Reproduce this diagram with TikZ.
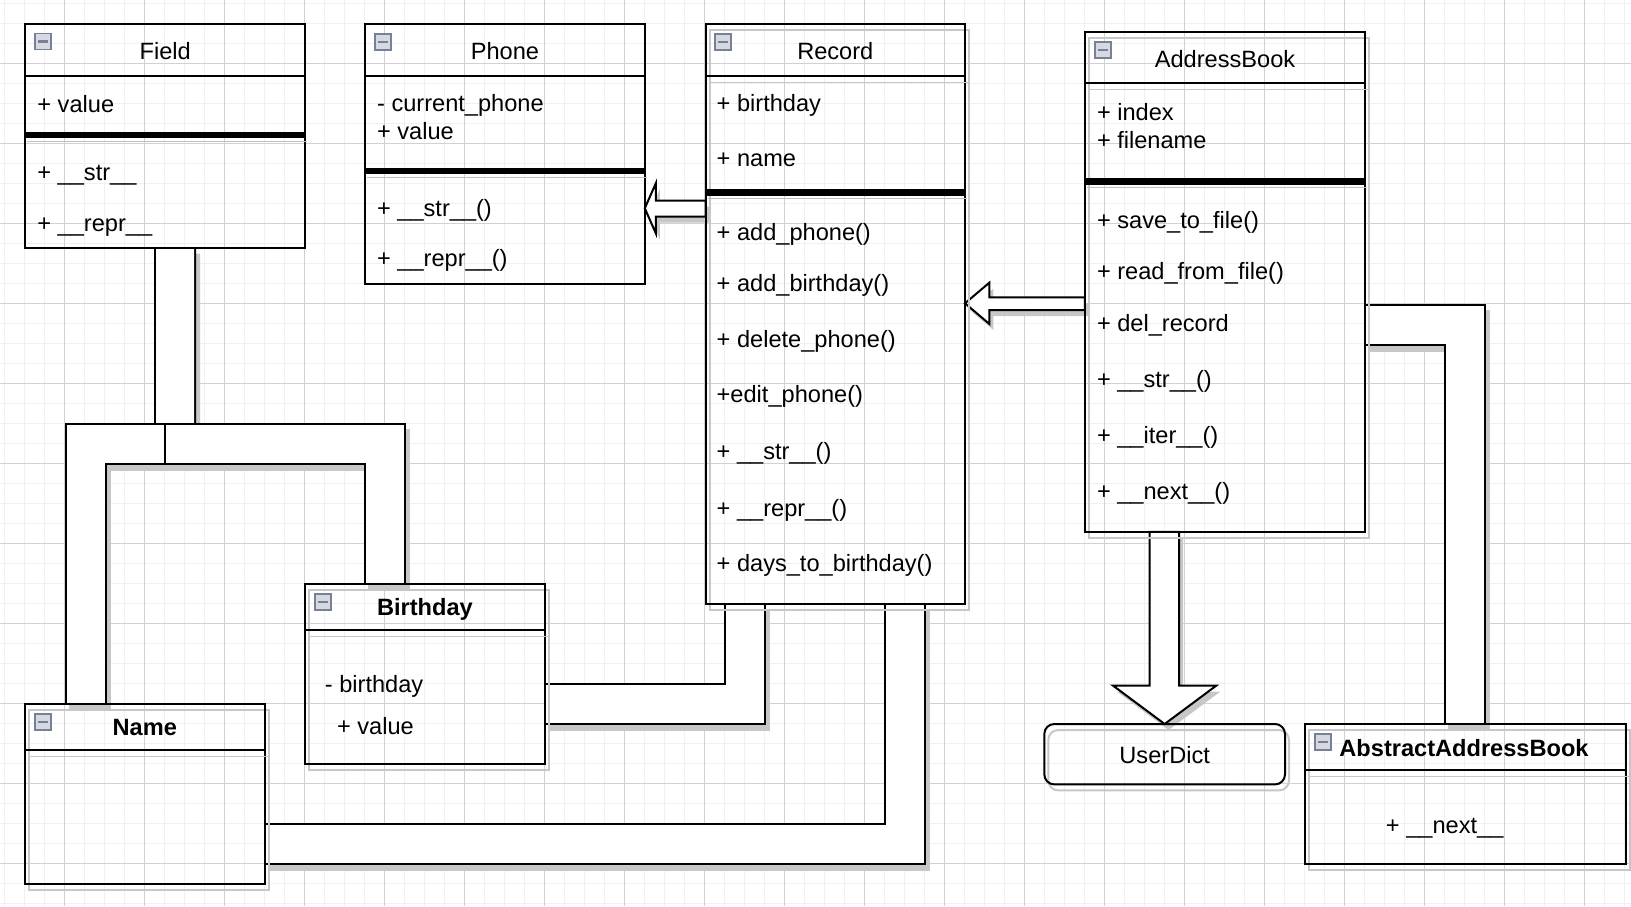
\documentclass[tikz,border=0pt]{standalone}
\usepackage{fontspec}
\setmainfont{Liberation Sans}
\usetikzlibrary{calc,fit}
\pgfdeclarelayer{bg}
\pgfsetlayers{bg,main}
\definecolor{togedge}{RGB}{118,128,150}
\definecolor{togfill}{RGB}{214,217,224}
\tikzset{
  cls/.style={draw, line width=1pt, inner sep=0pt, outer sep=0pt},
  shd/.style={preaction={draw=black!22, transform canvas={shift={(2pt,-3pt)}}}},
  bar/.style={line width=3.3pt, preaction={draw=black!25, transform canvas={shift={(1pt,-3pt)}}}},
  dlink/.style={line width=1pt, double=white, double distance=19pt,
    preaction={draw=black!22, line width=21pt, transform canvas={shift={(2pt,-3pt)}}}},
  harrow/.style={draw, fill=white, line width=1pt,
    preaction={fill=black!22, transform canvas={shift={(2pt,-3pt)}}}},
  tog/.style={draw=togedge, line width=0.8pt, fill=togfill, minimum size=8pt, inner sep=0pt,
    path picture={\draw[line width=1.1pt] ([xshift=-2.6pt]path picture bounding box.center)
      -- ([xshift=2.6pt]path picture bounding box.center);}},
  ttl/.style={anchor=base, inner sep=0pt},
  mem/.style={anchor=base west, inner sep=0pt}
}
\begin{document}
\begin{tikzpicture}[x=0.5pt, y=-0.5pt, font=\fontsize{11.8}{14}\selectfont]
      \useasboundingbox (0,0) rectangle (1631,906);
      % Field
      \node[cls, fit={(25.3,24)(305.2,247.7)}] (f) {};
      \node[tog] (f0) at (43,41.5) {};
      \node[ttl] (f1) at (165.25,59.3) {Field};
      \node[mem] (f2) at (37,112) {+ value};
      \node[mem] (f3) at (37,180) {+ \_\_str\_\_};
      \node[mem] (f4) at (37,231) {+ \_\_repr\_\_};
      \draw[line width=1pt] (25.3,76) -- (305.2,76);
      \draw[bar] (25.3,135) -- (305.2,135);
      % Phone
      \node[cls, fit={(365,24)(644.8,284)}] (p) {};
      \node[tog] (p0) at (383,41.7) {};
      \node[ttl] (p1) at (504.9,59.3) {Phone};
      \node[mem] (p2) at (376.7,111.5) {- current\_phone};
      \node[mem] (p3) at (376.7,139.5) {+ value};
      \node[mem] (p4) at (376.7,216.5) {+ \_\_str\_\_()};
      \node[mem] (p5) at (376.7,266.5) {+ \_\_repr\_\_()};
      \draw[line width=1pt] (365,76) -- (644.8,76);
      \draw[bar] (365,171) -- (644.8,171);
      % Record
      \node[cls, shd, fit={(705.7,24)(965,603.8)}] (r) {};
      \node[tog] (r0) at (723,41.7) {};
      \node[ttl] (r1) at (835.3,59.3) {Record};
      \node[mem] (r2) at (716.3,111.5) {+ birthday};
      \node[mem] (r3) at (716.3,166.5) {+ name};
      \node[mem] (r4) at (716.3,240) {+ add\_phone()};
      \node[mem] (r5) at (716.3,291.5) {+ add\_birthday()};
      \node[mem] (r6) at (716.3,347) {+ delete\_phone()};
      \node[mem] (r7) at (716.3,402.5) {+edit\_phone()};
      \node[mem] (r8) at (716.3,459) {+ \_\_str\_\_()};
      \node[mem] (r9) at (716.3,516) {+ \_\_repr\_\_()};
      \node[mem] (r10) at (716.3,571.5) {+ days\_to\_birthday()};
      \draw[shd, line width=1pt] (705.7,76) -- (965,76);
      \draw[bar] (705.7,192.7) -- (965,192.7);
      % AddressBook
      \node[cls, shd, fit={(1084.9,32)(1365,531.8)}] (ab) {};
      \node[tog] (ab0) at (1103,50) {};
      \node[ttl] (ab1) at (1225,67.3) {AddressBook};
      \node[mem] (ab2) at (1096.6,120) {+ index};
      \node[mem] (ab3) at (1096.6,148) {+ filename};
      \node[mem] (ab4) at (1096.6,228) {+ save\_to\_file()};
      \node[mem] (ab5) at (1096.6,279.5) {+ read\_from\_file()};
      \node[mem] (ab6) at (1096.6,331.5) {+ del\_record};
      \node[mem] (ab7) at (1096.6,387.5) {+ \_\_str\_\_()};
      \node[mem] (ab8) at (1096.6,443.8) {+ \_\_iter\_\_()};
      \node[mem] (ab9) at (1096.6,499) {+ \_\_next\_\_()};
      \draw[shd, line width=1pt] (1084.9,83) -- (1365,83);
      \draw[bar] (1084.9,181.3) -- (1365,181.3);
      % Birthday
      \node[cls, shd, fit={(304.9,583.6)(544.9,764)}] (bd) {};
      \node[tog] (bd0) at (322.8,602) {};
      \node[ttl] (bd1) at (424.9,615) {\bfseries Birthday};
      \node[mem] (bd2) at (324.5,692.4) {- birthday};
      \node[mem] (bd3) at (336.7,734.4) {+ value};
      \draw[shd, line width=1pt] (304.9,630) -- (544.9,630);
      % Name
      \node[cls, shd, fit={(24.5,703.8)(265,884)}] (nm) {};
      \node[tog] (nm0) at (43,722) {};
      \node[ttl] (nm1) at (144.75,735.6) {\bfseries Name};
      \draw[shd, line width=1pt] (24.5,750) -- (265,750);
      % UserDict
      \node[cls, shd, rounded corners=5pt, fit={(1044.3,724)(1285,784.4)}] (ud) {};
      \node[ttl] (ud1) at (1164.65,763.5) {UserDict};
      % AbstractAddressBook
      \node[cls, shd, fit={(1304.6,724)(1625.7,863.6)}] (aab) {};
      \node[tog] (aab0) at (1323,742) {};
      \node[ttl] (aab1) at (1464,756.4) {\bfseries AbstractAddressBook};
      \node[ttl] (aab2) at (1444.7,833.5) {+ \_\_next\_\_};
      \draw[shd, line width=1pt] (1304.6,770) -- (1625.7,770);

      \begin{pgfonlayer}{bg}
      \fill[white] (0,0) rectangle (1631,906);
      \foreach \gx in {4,24,...,1624} \draw[black!6, line width=0.5pt] (\gx,0) -- (\gx,906);
      \foreach \gy in {3.3,23.3,...,903.3} \draw[black!6, line width=0.5pt] (0,\gy) -- (1631,\gy);
      \foreach \gx in {64,144,...,1584} \draw[black!18, line width=0.5pt] (\gx,0) -- (\gx,906);
      \foreach \gy in {63.3,143.3,...,863.3} \draw[black!18, line width=0.5pt] (0,\gy) -- (1631,\gy);
      % links
      \coordinate (fork) at (165,443.5);
      \draw[dlink] ($(f.south)+(9.75,0)$) -- ($(fork)+(10,-20)$);
      \draw[dlink] ($(nm.north west)+(61,0)$) |- (fork);
      \draw[dlink] ($(bd.north west)+(80,0)$) |- (fork);
      \draw[line width=1pt] ($(fork)+(0,-20)$) -- ($(fork)+(0,20)$);
      \draw[dlink] ($(r.south west)+(39.3,0)$) |- ($(bd.east)+(0,29.9)$);
      \draw[dlink] ($(r.south west)+(198.8,0)$) |- ($(nm.east)+(0,50.1)$);
      \draw[dlink] ($(ab.east)+(0,42.7)$) -| (aab.north);
      % hollow arrows
      \coordinate (tp) at ($(p.north east)+(0,184.3)$);
      \draw[harrow] (tp) -- ++(11,-25) -- ++(0,17.2) -- ($(tp -| r.west)+(0,-7.8)$)
        -- ($(tp -| r.west)+(0,8.2)$) -- ($(tp)+(11,8.2)$) -- ++(0,16.8) -- cycle;
      \coordinate (tr) at ($(r.north east)+(0,279.3)$);
      \draw[harrow] (tr) -- ++(24.3,-20.6) -- ++(0,14.6) -- ($(tr -| ab.west)+(0,-6)$)
        -- ($(tr -| ab.west)+(0,6.7)$) -- ($(tr)+(24.3,6.7)$) -- ++(0,13.9) -- cycle;
      \coordinate (tu) at (ud.north);
      \draw[harrow] (tu) -- ++(-51.5,-38.3) -- ++(36.5,0) -- ($(tu |- ab.south)+(-15,0)$)
        -- ($(tu |- ab.south)+(14.5,0)$) -- ($(tu)+(14.5,-38.3)$) -- ++(37,0) -- cycle;
      \end{pgfonlayer}
    \end{tikzpicture}
\end{document}
